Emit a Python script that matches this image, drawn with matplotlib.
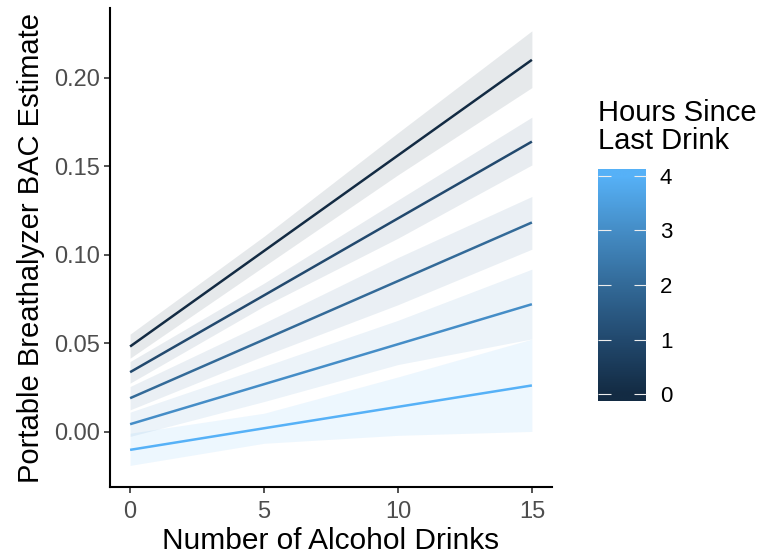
import numpy as np
import matplotlib
matplotlib.use("Agg")
import matplotlib.pyplot as plt
from matplotlib.colors import LinearSegmentedColormap

plt.rcParams['font.family'] = ['Liberation Sans', 'DejaVu Sans']

# Predicted BAC at 0, 5, 10, 15 drinks for each hour since last drink
drinks = [0, 5, 10, 15]
hours = [0, 1, 2, 3, 4]
fit = [
    [0.0482, 0.1022, 0.1562, 0.2102],
    [0.0337, 0.0771, 0.1206, 0.1640],
    [0.0190, 0.0521, 0.0852, 0.1183],
    [0.0043, 0.0269, 0.0495, 0.0721],
    [-0.0102, 0.0020, 0.0141, 0.0262],
]
lower = [
    [0.0416, 0.0935, 0.1452, 0.1945],
    [0.0275, 0.0710, 0.1094, 0.1508],
    [0.0124, 0.0430, 0.0718, 0.1032],
    [-0.0026, 0.0171, 0.0380, 0.0525],
    [-0.0190, -0.0065, -0.0020, 0.0002],
]
upper = [
    [0.0552, 0.1105, 0.1690, 0.2266],
    [0.0397, 0.0840, 0.1310, 0.1778],
    [0.0256, 0.0615, 0.0985, 0.1330],
    [0.0111, 0.0369, 0.0630, 0.0919],
    [-0.0008, 0.0105, 0.0310, 0.0524],
]
x_ticks = [0, 5, 10, 15]
y_ticks = [0.00, 0.05, 0.10, 0.15, 0.20]

# ggplot-like continuous blue gradient
cmap = LinearSegmentedColormap.from_list(
    "hours", ["#132B43", "#22496E", "#336A98", "#458DC6", "#56B1F7"])
norm = plt.Normalize(0, 4)

fig = plt.figure(figsize=(7.66, 5.55), dpi=100)
ax = fig.add_axes([0.1436, 0.1225, 0.577, 0.8631])

for h, lo, hi in zip(hours, lower, upper):
    ax.fill_between(drinks, lo, hi, color=cmap(norm(h)), alpha=0.1, linewidth=0)
for h, y in zip(hours, fit):
    ax.plot(drinks, y, color=cmap(norm(h)), linewidth=1.8, solid_capstyle='butt')

ax.set_xlim(-0.75, 15.75)
ax.set_ylim(-0.0312, 0.2395)
ax.set_xticks(x_ticks)
ax.set_yticks(y_ticks)
ax.set_yticklabels([f"{v:.2f}" for v in y_ticks])
for side in ['top', 'right']:
    ax.spines[side].set_visible(False)
for side in ['left', 'bottom']:
    ax.spines[side].set_linewidth(1.5)
    ax.spines[side].set_color('black')
ax.tick_params(length=4, width=1.2, color='#333333', labelcolor='#4D4D4D',
               labelsize=17, pad=3)
ax.tick_params(axis='x', pad=6)
ax.set_xlabel("Number of Alcohol Drinks", fontsize=21.5, labelpad=3)
ax.set_ylabel("Portable Breathalyzer BAC Estimate", fontsize=21, labelpad=7)

# colour bar legend
cax = fig.add_axes([598 / 766, 1 - 401 / 555, 48 / 766, 232 / 555])
grad = np.linspace(-0.12, 4.12, 256).reshape(-1, 1)
cax.imshow(grad, cmap=cmap, norm=norm, aspect='auto', origin='lower',
           extent=[0, 1, -0.12, 4.12])
cax.set_xlim(0, 1)
cax.set_ylim(-0.12, 4.12)
cax.set_xticks([])
cax.set_yticks(hours)
for s in cax.spines.values():
    s.set_visible(False)
cax.tick_params(axis='y', direction='in', left=True, right=True,
                labelleft=False, labelright=True, length=9, width=0.8,
                color='#EEEEEE', labelsize=16, labelcolor='black', pad=10)
fig.text(598 / 766, 1 - 99 / 555, "Hours Since\nLast Drink", fontsize=21,
         va='top', ha='left', linespacing=1.0)

fig.savefig("out.png", dpi=100)
